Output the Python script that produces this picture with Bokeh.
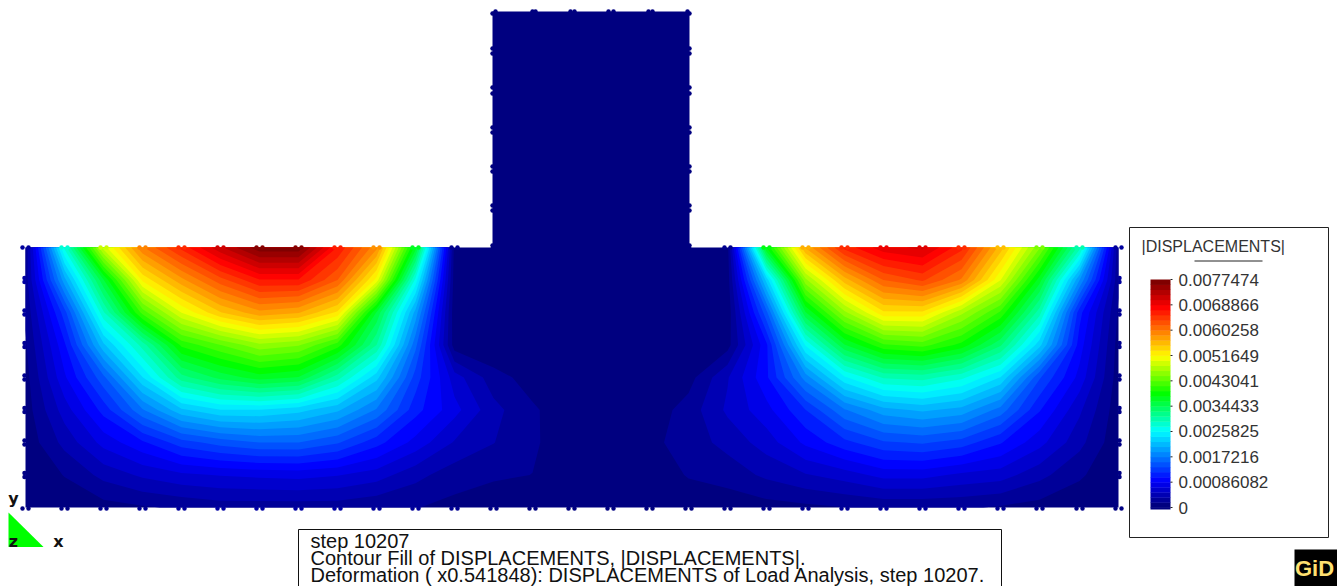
import numpy as np
from bokeh.plotting import figure
from bokeh.plotting.contour import contour_data
from bokeh.core.properties import value
from bokeh.embed import file_html
from bokeh.resources import INLINE

# ---- data -----------------------------------------------------------------
x_nodes = [25, 64, 103, 142, 181, 220, 259, 298, 337, 376, 415, 454, 493, 532, 571,
           610, 649, 688, 727, 766, 805, 844, 883, 922, 961, 1000, 1039, 1079, 1118]
y_nodes = [247, 279.5, 312, 344.5, 377, 409.5, 442, 474.5, 507]
# displacement magnitude, in units of 1e-4
row_0 = [2, 28, 49, 60, 66, 72, 77, 77, 67, 59, 37, 1, 0, 0, 0, 0, 0, 0, 1, 38, 57, 66, 70, 71, 66, 56, 45, 30, 2]
row_1 = [2.5, 20, 36, 52, 58, 63, 67, 67, 62, 51, 27, 0.8, 0, 0, 0, 0, 0, 0, 0.8, 23, 46, 56, 62, 64, 60, 50, 37, 19, 2]
row_2 = [2, 13, 29, 42, 50, 55, 58, 57, 53, 36, 20, 0.5, 0, 0, 0, 0, 0, 0, 0.5, 15, 36, 46, 53, 53, 47, 41, 30, 11, 1.5]
row_3 = [1.5, 10, 22, 30, 40, 43, 46, 45, 40.5, 31, 16, 0.8, 0, 0, 0, 0, 0, 0, 1, 10, 26, 36, 41, 42, 39, 33, 23, 9.5, 1]
row_4 = [1, 8.3, 15, 24, 32, 35, 37, 36, 30, 23, 13, 6, 2.5, 0.9, 0, 0, 0, 1, 5, 10, 18, 25.5, 29.5, 30, 28, 24, 14, 8, 0.8]
row_5 = [0.8, 6, 11, 17, 22, 24, 24, 23, 21, 17, 11, 7.5, 4, 2, 0.5, 0, 0.6, 2.5, 5.5, 8, 12, 17, 20, 21, 20, 16.5, 10.5, 5.5, 0.6]
row_6 = [0.5, 4, 7.5, 10, 13, 14.5, 15.5, 15.5, 14, 11, 8, 5, 3.5, 2, 0.6, 0, 1.2, 2.6, 4, 6, 9, 11.5, 13.5, 14, 13, 10.5, 7.5, 4, 0.4]
row_7 = [0.3, 1.8, 4, 5.5, 6.5, 7, 7.3, 7.5, 7, 6, 4, 2.5, 2, 1.7, 0.3, 0, 0.3, 1.9, 2.5, 3.8, 5, 6, 7.5, 7.5, 6.5, 6, 4, 2, 0.3]
row_8 = [0.2, 0.5, 1, 1.5, 2, 2.5, 2.5, 2.5, 2.5, 2, 1.8, 1.2, 0.6, 0.2, 0, 0, 0, 0.2, 0.6, 1, 1.3, 1.7, 2, 2, 2, 1.5, 1, 0.5, 0.2]

max_value = 0.0077474
n_bands = 45
tick_labels = ["0", "0.00086082", "0.0017216", "0.0025825", "0.0034433",
               "0.0043041", "0.0051649", "0.0060258", "0.0068866", "0.0077474"]
tick_values = [0, 0.00086082, 0.0017216, 0.0025825, 0.0034433,
               0.0043041, 0.0051649, 0.0060258, 0.0068866, 0.0077474]
legend_title = "|DISPLACEMENTS|"
info_lines = ["step 10207",
              "Contour Fill of DISPLACEMENTS, |DISPLACEMENTS|.",
              "Deformation ( x0.541848): DISPLACEMENTS of Load Analysis, step 10207."]

tower_x = [495, 532, 535, 570, 574, 608, 613, 648, 652, 687]
tower_y = [13, 48, 53, 87, 93, 127, 132, 166, 171, 205, 210, 245]

# ---- colours --------------------------------------------------------------
stops = [0, 1/9, 1/3, 1/2, 2/3, 8/9, 1]
reds = [0, 0, 0, 0, 255, 255, 128]
greens = [0, 0, 255, 255, 255, 0, 0]
blues = [128, 255, 255, 0, 0, 0, 0]

def jet(t):
    return "#%02x%02x%02x" % (int(np.interp(t, stops, reds)),
                              int(np.interp(t, stops, greens)),
                              int(np.interp(t, stops, blues)))

z = np.array([row_0, row_1, row_2, row_3, row_4, row_5, row_6, row_7, row_8]) * 1e-4
levels = np.linspace(0, max_value, n_bands + 1)
band_colors = [jet(i / (n_bands - 1)) for i in range(n_bands)]

# ---- figure ---------------------------------------------------------------
p = figure(width=1337, height=586, x_range=(0, 1337), y_range=(586, 0),
           output_backend="svg", toolbar_location=None, min_border=0,
           background_fill_color="white", border_fill_color="white")
p.axis.visible = False
p.grid.visible = False
p.outline_line_color = None

NAVY = "#000080"
p.patch([25, 490, 492, 492, 689, 689, 691, 1118, 1118, 25],
        [247, 247, 245, 11, 11, 245, 247, 247, 507, 507],
        fill_color=NAVY, line_color=None)

# stacked fills (value >= level): each band is painted over the previous one, so no seams
for lo, col in zip(levels[1:-1], band_colors[1:]):
    cd = contour_data(x_nodes, y_nodes, z, [lo, max_value * 1.01], want_fill=True, want_line=False)
    p.multi_polygons(xs=cd.fill_data.xs, ys=cd.fill_data.ys, fill_color=col, line_color=None)

# mesh nodes on the boundary
nx, ny, nv = [], [], []
for i, xn in enumerate(x_nodes):
    for d in [-3, 3]:
        if xn < 460 or xn > 720:
            nx.append(xn + d); ny.append(y_nodes[0]); nv.append(z[0, i])
        nx.append(xn + d); ny.append(y_nodes[-1] + 1); nv.append(z[-1, i])
for j, yn in enumerate(y_nodes[1:-1], start=1):
    for d in [-2, 2]:
        nx.append(x_nodes[0] - 1); ny.append(yn + d); nv.append(z[j, 0])
        nx.append(x_nodes[-1] + 1); ny.append(yn + d); nv.append(z[j, -1])
for xn in tower_x:
    nx.append(xn); ny.append(11); nv.append(0)
for yn in tower_y:
    nx.extend([492, 689]); ny.extend([yn, yn]); nv.extend([0, 0])
p.scatter(nx, ny, size=4.5, marker="circle",
          fill_color=[jet(v / max_value) for v in nv], line_color=None)

# axes triad
p.patch([8, 8, 43], [512, 546.5, 546.5], fill_color="#00ff00", line_color=None)
for s, tx, ty in [("y", 13, 498), ("z", 13, 541), ("x", 58, 541)]:
    p.text([tx], [ty], text=[s], text_font=value("DejaVu Sans"), text_font_style="bold",
           text_font_size="16px", text_align="center", text_baseline="middle", text_color="#111111")

# legend box
p.quad(left=1129, right=1328, top=227, bottom=537, fill_color="white", line_color="#222222", line_width=1)
p.text([1141], [246], text=[legend_title], text_font=value("Liberation Sans"), text_font_size="16px",
       text_baseline="middle", text_color="#333333")
p.segment(1194, 260.5, 1262, 260.5, line_color="#222222", line_width=1)

def vy(v):
    return 507 - 228 * np.asarray(v) / max_value

p.quad(left=1150, right=1170, top=vy(levels[1:]), bottom=vy(levels[:-1]) + 0.4,
       fill_color=band_colors, line_color=None)
p.quad(left=1150, right=1170, top=507, bottom=509, fill_color=NAVY, line_color=None)
tick_y = vy(tick_values)
p.segment(1170, tick_y, 1172, tick_y, line_color="#222222", line_width=1)
p.text([1178] * len(tick_labels), tick_y, text=tick_labels, text_font=value("Liberation Sans"),
       text_font_size="17px", text_baseline="middle", text_color="#333333")

# info box
p.quad(left=298, right=1001, top=529, bottom=600, fill_color="white", line_color="#111111", line_width=1)
p.text([310, 310, 310], [540, 557, 574], text=info_lines, text_font=value("Liberation Sans"),
       text_font_size="20px", text_baseline="middle", text_color="#111111")

# logo
p.quad(left=1294, right=1337, top=549, bottom=586, fill_color="black", line_color=None)
p.text([1314], [568], text=["GiD"], text_font=value("Liberation Sans"), text_font_style="bold",
       text_font_size="22px", text_align="center", text_baseline="middle", text_color="#ffe070")

open("out.html", "w").write(file_html(p, INLINE))
